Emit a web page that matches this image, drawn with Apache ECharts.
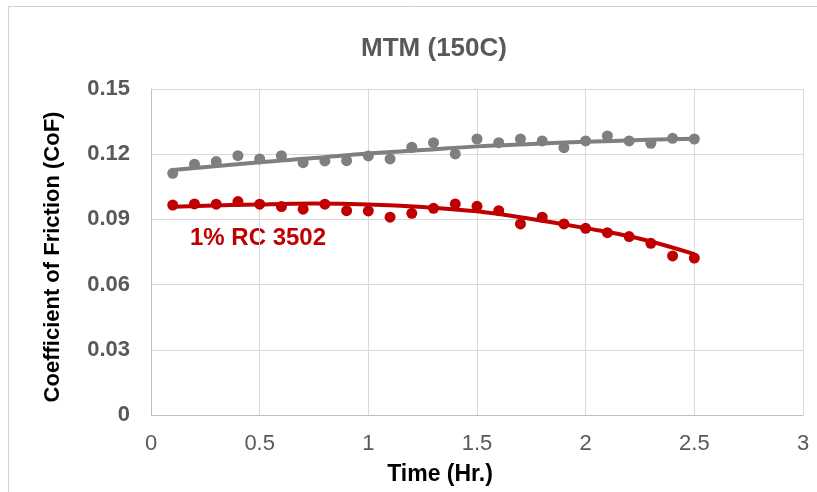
<!DOCTYPE html>
<html>
<head>
<meta charset="utf-8">
<script src="https://cdn.jsdelivr.net/npm/echarts@6/dist/echarts.min.js"></script>
<style>
  html, body { margin: 0; padding: 0; background: #fff; }
  #chart { width: 817px; height: 492px; }
</style>
</head>
<body>
<div id="chart"></div>
<script>
// measured CoF values, one point every 0.1 hr
const times = [0.1, 0.2, 0.3, 0.4, 0.5, 0.6, 0.7, 0.8, 0.9, 1.0, 1.1, 1.2, 1.3,
  1.4, 1.5, 1.6, 1.7, 1.8, 1.9, 2.0, 2.1, 2.2, 2.3, 2.4, 2.5]
const baseCof = [0.1112, 0.1154, 0.1166, 0.1193, 0.1178, 0.1193, 0.1161, 0.1169, 0.1170,
  0.1192, 0.1178, 0.1232, 0.1253, 0.1201, 0.1270, 0.1253, 0.1270, 0.1261, 0.1230,
  0.1261, 0.1284, 0.1261, 0.1250, 0.1273, 0.1270]
const rcCof = [0.0966, 0.0971, 0.0970, 0.0982, 0.0970, 0.0959, 0.0947, 0.0970, 0.0940,
  0.0939, 0.0910, 0.0928, 0.0951, 0.0971, 0.0960, 0.0940, 0.0879, 0.0910, 0.0879,
  0.0859, 0.0839, 0.0821, 0.0790, 0.0732, 0.0722]

// trendlines
const trendTimes = [0.1, 0.5, 0.75, 1.0, 1.25, 1.5, 1.75, 2.0, 2.25, 2.5]
const baseTrend = [0.1127, 0.1163, 0.1182, 0.1203, 0.1219, 0.1236, 0.1247, 0.1257, 0.1265, 0.1271]
const rcTrend = [0.0958, 0.0969, 0.0973, 0.0969, 0.0957, 0.0937, 0.0902, 0.0860, 0.0811, 0.0740]

const xTicks = { min: 0, max: 3, interval: 0.5 }
const yTicks = { min: 0, max: 0.15, interval: 0.03 }

const GRAY = '#7F7F7F'
const RED = '#C00000'
const FONT = 'Liberation Sans, Arial, sans-serif'

function pairs(xs, ys) {
  return xs.map((x, i) => [x, ys[i]])
}

function trend(name, xs, ys, color) {
  return {
    name: name,
    type: 'line',
    data: pairs(xs, ys),
    smooth: 0.4,
    showSymbol: false,
    silent: true,
    lineStyle: { color: color, width: 4 },
    z: 3
  }
}

function dots(name, ys, color) {
  return {
    name: name,
    type: 'scatter',
    data: pairs(times, ys),
    symbolSize: 11,
    itemStyle: { color: color, opacity: 1 },
    z: 2
  }
}

const chart = echarts.init(document.getElementById('chart'))
chart.setOption({
  animation: false,
  grid: { left: 151, top: 89, right: 14, bottom: 77 },
  xAxis: {
    type: 'value',
    min: xTicks.min, max: xTicks.max, interval: xTicks.interval,
    axisLine: { show: true, lineStyle: { color: '#BFBFBF', width: 1 } },
    axisTick: { show: false },
    axisLabel: { color: '#595959', fontSize: 22, fontFamily: FONT, margin: 18 },
    splitLine: { show: true, lineStyle: { color: '#D9D9D9', width: 1 } }
  },
  yAxis: {
    type: 'value',
    min: yTicks.min, max: yTicks.max, interval: yTicks.interval,
    axisLine: { show: true, lineStyle: { color: '#BFBFBF', width: 1 } },
    axisTick: { show: false },
    axisLabel: { color: '#595959', fontSize: 22, fontWeight: 'bold', fontFamily: FONT, margin: 21 },
    splitLine: { show: true, lineStyle: { color: '#D9D9D9', width: 1 } }
  },
  graphic: [
    {
      type: 'rect',
      shape: { x: 8.5, y: 6.5, width: 830, height: 520 },
      style: { fill: 'none', stroke: '#D0D0D0', lineWidth: 1 },
      silent: true,
      z: -10
    },
    {
      type: 'text',
      x: 434, y: 49,
      style: {
        text: 'MTM (150C)', fill: '#595959', align: 'center', verticalAlign: 'middle',
        font: 'bold 26px ' + FONT
      }
    },
    {
      type: 'text',
      x: 440, y: 475,
      style: {
        text: 'Time (Hr.)', fill: '#000', align: 'center', verticalAlign: 'middle',
        font: 'bold 23px ' + FONT
      }
    },
    {
      type: 'text',
      x: 53, y: 257,
      rotation: Math.PI / 2,
      style: {
        text: 'Coefficient of Friction (CoF)', fill: '#000', align: 'center', verticalAlign: 'middle',
        font: 'bold 22px ' + FONT
      }
    },
    {
      type: 'text',
      x: 258, y: 238,
      style: {
        text: '1% RC 3502', fill: RED, align: 'center', verticalAlign: 'middle',
        font: 'bold 24px ' + FONT
      }
    }
  ],
  series: [
    dots('Base', baseCof, GRAY),
    dots('1% RC 3502', rcCof, RED),
    trend('Base trend', trendTimes, baseTrend, GRAY),
    trend('1% RC 3502 trend', trendTimes, rcTrend, RED)
  ]
})
</script>
</body>
</html>
